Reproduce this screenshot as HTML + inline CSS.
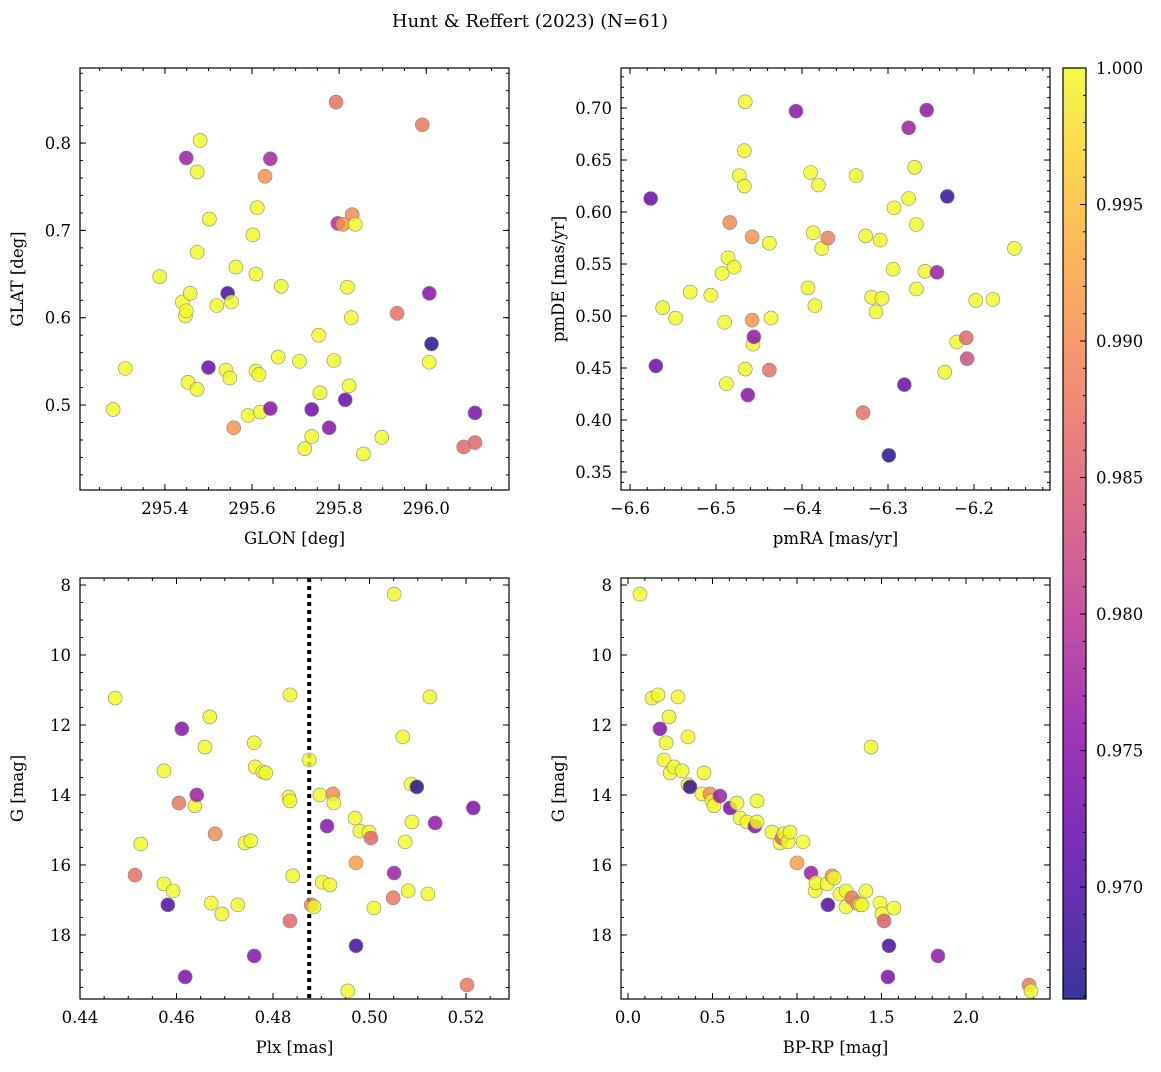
<!DOCTYPE html>
<html><head><meta charset="utf-8"><style>
body{margin:0;background:#fff;}
svg text{font-family:"DejaVu Serif","Liberation Serif",serif;fill:#000;}
</style></head><body>
<svg id="fig" width="1161" height="1067" xmlns="http://www.w3.org/2000/svg">
<text x="530" y="27" font-size="18" text-anchor="middle">Hunt &amp; Reffert (2023) (N=61)</text>
</svg>
<script>
// ---- data (colour = membership probability) ----
const tlGlon=[295.281,295.309,295.388,295.440,295.447,295.449,295.458,295.453,295.474,295.474,295.474,295.481,295.449,295.502,295.519,295.500,295.544,295.553,295.540,295.549,295.563,295.558,295.591,295.602,295.609,295.612,295.609,295.616,295.619,295.630,295.642,295.642,295.660,295.667,295.709,295.721,295.737,295.737,295.753,295.756,295.777,295.788,295.793,295.797,295.809,295.819,295.814,295.823,295.828,295.830,295.837,295.856,295.898,295.933,295.991,296.007,296.007,296.012,296.086,296.112,296.112];
const tlGlat=[0.495,0.542,0.647,0.618,0.602,0.608,0.628,0.526,0.518,0.675,0.767,0.803,0.783,0.713,0.614,0.543,0.628,0.618,0.540,0.531,0.658,0.474,0.488,0.695,0.650,0.726,0.539,0.535,0.492,0.762,0.782,0.496,0.555,0.636,0.550,0.450,0.464,0.495,0.580,0.514,0.474,0.551,0.847,0.708,0.707,0.635,0.506,0.522,0.600,0.718,0.707,0.444,0.463,0.605,0.821,0.549,0.628,0.570,0.452,0.457,0.491];
const tlProb=[1,1,1,1,1,1,1,1,1,1,1,1,0.977,1,1,0.972,0.969,1,1,1,1,0.991,1,1,1,1,1,1,1,0.991,0.978,0.975,1,1,1,1,1,0.973,1,1,0.975,1,0.987,0.979,0.992,1,0.972,1,1,0.990,1,1,1,0.987,0.988,1,0.975,0.967,0.986,0.986,0.974];
const trPmra=[-6.570,-6.562,-6.576,-6.547,-6.530,-6.506,-6.490,-6.488,-6.493,-6.486,-6.479,-6.484,-6.473,-6.467,-6.467,-6.466,-6.466,-6.463,-6.457,-6.456,-6.458,-6.458,-6.438,-6.436,-6.438,-6.407,-6.393,-6.390,-6.387,-6.385,-6.381,-6.377,-6.370,-6.337,-6.329,-6.326,-6.319,-6.314,-6.309,-6.307,-6.299,-6.294,-6.293,-6.281,-6.276,-6.276,-6.269,-6.267,-6.267,-6.257,-6.255,-6.243,-6.231,-6.234,-6.220,-6.209,-6.208,-6.198,-6.178,-6.153];
const trPmde=[0.452,0.508,0.613,0.498,0.523,0.520,0.494,0.435,0.541,0.556,0.547,0.590,0.635,0.625,0.659,0.706,0.449,0.424,0.473,0.480,0.496,0.576,0.570,0.498,0.448,0.697,0.527,0.638,0.580,0.510,0.626,0.565,0.575,0.635,0.407,0.577,0.518,0.504,0.573,0.517,0.366,0.545,0.604,0.434,0.681,0.613,0.643,0.588,0.526,0.543,0.698,0.542,0.615,0.446,0.475,0.479,0.459,0.515,0.516,0.565];
const trProb=[0.972,1,0.972,1,1,1,1,1,1,1,1,0.990,1,1,1,1,1,0.975,1,0.976,0.991,0.991,1,1,0.987,0.975,1,1,1,1,1,1,0.989,1,0.987,1,1,1,1,1,0.967,1,1,0.972,0.977,1,1,1,1,1,0.976,0.977,0.968,1,1,0.986,0.983,1,1,1];
const blPlx=[0.4473,0.4514,0.4526,0.4574,0.4574,0.4582,0.4593,0.4605,0.4611,0.4618,0.4638,0.4642,0.4659,0.4669,0.4672,0.4680,0.4694,0.4727,0.4742,0.4754,0.4761,0.4761,0.4763,0.4779,0.4785,0.4835,0.4833,0.4835,0.4835,0.4841,0.4875,0.4879,0.4885,0.4897,0.4902,0.4912,0.4918,0.4924,0.4926,0.4955,0.4970,0.4972,0.4972,0.4980,0.4999,0.5003,0.5009,0.5049,0.5051,0.5051,0.5069,0.5074,0.5080,0.5086,0.5088,0.5098,0.5121,0.5125,0.5136,0.5202,0.5215];
const blG=[11.23,16.29,15.40,13.31,16.54,17.14,16.74,14.23,12.11,19.20,14.31,14.00,12.63,11.77,17.09,15.11,17.40,17.14,15.37,15.31,12.51,18.60,13.20,13.34,13.37,11.14,14.06,14.17,17.60,16.31,13.00,17.14,17.20,14.00,16.49,14.89,16.57,13.97,14.23,19.60,14.66,18.31,15.94,15.03,15.06,15.23,17.23,16.94,8.26,16.23,12.34,15.34,16.74,13.69,14.77,13.77,16.83,11.20,14.80,19.43,14.37];
const blProb=[1,0.987,1,1,1,0.970,1,0.988,0.975,0.974,1,0.977,1,1,1,0.990,1,1,1,1,1,0.975,1,1,1,1,1,1,0.986,1,1,0.990,1,1,1,0.975,1,0.990,1,1,1,0.969,0.992,1,1,0.986,1,0.988,1,0.977,1,1,1,1,1,0.967,1,1,0.976,0.988,0.974];
const brBprp=[0.071,0.142,0.178,0.189,0.213,0.225,0.243,0.249,0.272,0.296,0.320,0.355,0.355,0.367,0.438,0.450,0.485,0.497,0.509,0.544,0.604,0.645,0.663,0.704,0.751,0.763,0.763,0.852,0.899,0.911,0.923,0.947,0.959,1.000,1.036,1.083,1.107,1.112,1.178,1.183,1.207,1.219,1.254,1.290,1.290,1.325,1.355,1.373,1.385,1.408,1.438,1.491,1.503,1.515,1.544,1.538,1.574,1.834,2.373,2.385];
const brG=[8.26,11.23,11.14,12.11,13.00,12.51,11.77,13.37,13.20,11.20,13.31,12.34,13.71,13.77,13.97,13.37,13.97,14.17,14.31,14.03,14.37,14.23,14.66,14.77,14.89,14.77,14.17,15.06,15.37,15.23,15.11,15.34,15.06,15.94,15.34,16.23,16.74,16.51,16.54,17.14,16.31,16.37,16.83,16.74,17.20,16.94,17.09,17.14,17.14,16.74,12.63,17.09,17.40,17.60,18.31,19.20,17.23,18.60,19.43,19.60];
const brProb=[1,1,1,0.975,1,1,1,1,1,1,1,1,1,0.968,1,1,0.990,1,1,0.977,0.974,1,1,1,0.975,1,1,1,1,0.986,1,1,1,0.992,1,0.977,1,1,1,0.970,0.991,1,1,1,1,0.988,0.990,1,1,1,1,1,1,0.985,0.969,0.974,1,0.976,0.988,1];
const plxLine=0.4875;
const cbTicks=[0.970,0.975,0.980,0.985,0.990,0.995,1.000];
const cMin=0.9659,cMax=1.0;

const NS="http://www.w3.org/2000/svg";
const svg=document.getElementById('fig');
function mk(tag,attrs,parent){const e=document.createElementNS(NS,tag);for(const k in attrs)e.setAttribute(k,attrs[k]);(parent||svg).appendChild(e);return e;}
const stops=[[13,8,135],[65,4,157],[106,0,168],[143,13,164],[177,42,144],[204,71,120],[225,100,98],[242,132,75],[252,166,54],[252,206,37],[240,249,33]];
function plasma(t){t=Math.max(0,Math.min(1,t));const f=t*10,i=Math.min(9,Math.floor(f)),u=f-i;const a=stops[i],b=stops[i+1];return 'rgb('+a.map((v,k)=>Math.round(v+(b[k]-v)*u)).join(',')+')';}
function fmt(v,d){return (v<0?'\u2212':'')+Math.abs(v).toFixed(d);}

function panel(o){
  const g=mk('g',{});
  
  
  const sx=v=>o.x0+(v-o.xmin)/(o.xmax-o.xmin)*(o.x1-o.x0);
  const sy=v=>o.inv? o.y0+(v-o.ymin)/(o.ymax-o.ymin)*(o.y1-o.y0) : o.y1-(v-o.ymin)/(o.ymax-o.ymin)*(o.y1-o.y0);
  const eps=1e-9;
  function ticksX(step,len){for(let v=Math.ceil(o.xmin/step-eps)*step;v<=o.xmax+eps;v+=step){const X=sx(v);mk('line',{x1:X,x2:X,y1:o.y1,y2:o.y1-len,stroke:'#000','stroke-width':1},g);mk('line',{x1:X,x2:X,y1:o.y0,y2:o.y0+len,stroke:'#000','stroke-width':1},g);}}
  function ticksY(step,len){for(let v=Math.ceil(o.ymin/step-eps)*step;v<=o.ymax+eps;v+=step){const Y=sy(v);mk('line',{x1:o.x0,x2:o.x0+len,y1:Y,y2:Y,stroke:'#000','stroke-width':1},g);mk('line',{x1:o.x1,x2:o.x1-len,y1:Y,y2:Y,stroke:'#000','stroke-width':1},g);}}
  ticksX(o.xminor,3);ticksY(o.yminor,3);ticksX(o.xmajor,6);ticksY(o.ymajor,6);
  for(let v=Math.ceil(o.xmin/o.xmajor-eps)*o.xmajor;v<=o.xmax+eps;v+=o.xmajor){const t=mk('text',{x:sx(v),y:o.y1+24,'font-size':16.5,'text-anchor':'middle'},g);t.textContent=fmt(v,o.xd);}
  for(let v=Math.ceil(o.ymin/o.ymajor-eps)*o.ymajor;v<=o.ymax+eps;v+=o.ymajor){const t=mk('text',{x:o.x0-9,y:sy(v)+6,'font-size':16.5,'text-anchor':'end'},g);t.textContent=fmt(v,o.yd);}
  const xl=mk('text',{x:(o.x0+o.x1)/2,y:o.y1+54,'font-size':16.5,'text-anchor':'middle'},g);xl.textContent=o.xlabel;
  
  const yc=(o.y0+o.y1)/2,yx=o.x0-57;
  const yl=mk('text',{x:yx,y:yc,'font-size':16.5,'text-anchor':'middle',transform:`rotate(-90 ${yx} ${yc})`},g);yl.textContent=o.ylabel;
  
  if(o.vline!==undefined){const l=mk('line',{x1:sx(o.vline),x2:sx(o.vline),y1:o.y0,y2:o.y1,stroke:'#000','stroke-width':4,'stroke-dasharray':'4,4'},g);}
  for(let i=0;i<o.xs.length;i++){
    const c=mk('circle',{cx:sx(o.xs[i]),cy:sy(o.ys[i]),r:7,fill:plasma((o.cs[i]-cMin)/(cMax-cMin)),'fill-opacity':0.82,stroke:'#888','stroke-width':0.6},g);
    
    
  }
  mk('rect',{x:o.x0,y:o.y0,width:o.x1-o.x0,height:o.y1-o.y0,fill:'none',stroke:'#000','stroke-width':1.2},g);
}
panel({name:'glon-glat-panel',x0:80,x1:509,y0:68,y1:490,xmin:295.205,xmax:296.19,ymin:0.4027,ymax:0.886,xmajor:0.2,xminor:0.05,ymajor:0.1,yminor:0.02,xd:1,yd:1,xlabel:'GLON [deg]',ylabel:'GLAT [deg]',xs:tlGlon,ys:tlGlat,cs:tlProb});
panel({name:'proper-motion-panel',x0:621,x1:1050,y0:68,y1:490,xmin:-6.6105,xmax:-6.1116,ymin:0.3327,ymax:0.7385,xmajor:0.1,xminor:0.02,ymajor:0.05,yminor:0.01,xd:1,yd:2,xlabel:'pmRA [mas/yr]',ylabel:'pmDE [mas/yr]',xs:trPmra,ys:trPmde,cs:trProb});
panel({name:'parallax-mag-panel',x0:80,x1:509,y0:578,y1:999,xmin:0.44,xmax:0.5289,ymin:7.8,ymax:19.83,inv:true,xmajor:0.02,xminor:0.005,ymajor:2,yminor:0.5,xd:2,yd:0,xlabel:'Plx [mas]',ylabel:'G [mag]',xs:blPlx,ys:blG,cs:blProb,vline:plxLine});
panel({name:'cmd-panel',x0:621,x1:1050,y0:578,y1:999,xmin:-0.0414,xmax:2.497,ymin:7.8,ymax:19.83,inv:true,xmajor:0.5,xminor:0.1,ymajor:2,yminor:0.5,xd:1,yd:0,xlabel:'BP-RP [mag]',ylabel:'G [mag]',xs:brBprp,ys:brG,cs:brProb});

const cb=mk('g',{});


const defs=mk('defs',{},cb);const lg=mk('linearGradient',{id:'cbg',x1:0,y1:1,x2:0,y2:0},defs);
stops.forEach((s,i)=>mk('stop',{offset:i/10,'stop-color':`rgb(${s.join(',')})`},lg));
const cbX=1063,cbW=23,cbT=68,cbB=999;
mk('rect',{x:cbX,y:cbT,width:cbW,height:cbB-cbT,fill:'url(#cbg)','fill-opacity':0.82},cb);
mk('rect',{x:cbX,y:cbT,width:cbW,height:cbB-cbT,fill:'none',stroke:'#000','stroke-width':1.2},cb);
const cy=v=>cbB-(v-cMin)/(cMax-cMin)*(cbB-cbT);
for(let v=0.966;v<=1.0001;v+=0.001){const Y=cy(v);mk('line',{x1:cbX+cbW,x2:cbX+cbW-3,y1:Y,y2:Y,stroke:'#000'},cb);}
cbTicks.forEach(v=>{const Y=cy(v);mk('line',{x1:cbX+cbW,x2:cbX+cbW-6,y1:Y,y2:Y,stroke:'#000'},cb);const t=mk('text',{x:cbX+cbW+10,y:Y+6,'font-size':16.5},cb);t.textContent=v.toFixed(3);});
</script>
</body></html>
